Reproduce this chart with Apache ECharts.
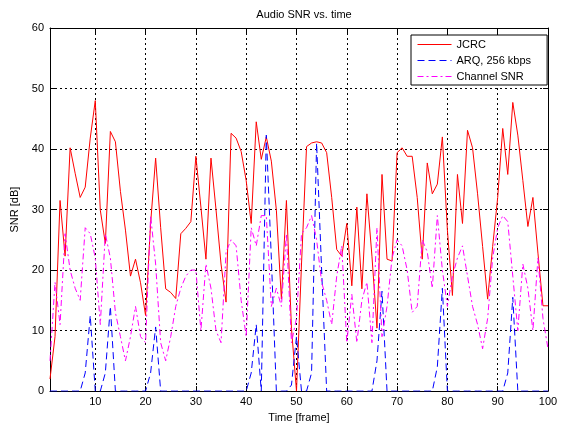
<!DOCTYPE html>
<html>
<head>
<meta charset="utf-8">
<script src="https://cdn.jsdelivr.net/npm/echarts@6/dist/echarts.min.js"></script>
<style>
html,body{margin:0;padding:0;background:#fff;}
#chart{width:569px;height:428px;}
</style>
</head>
<body>
<div id="chart"></div>
<script>
// ---- data ----
var frames = [1,2,3,4,5,6,7,8,9,10,11,12,13,14,15,16,17,18,19,20,21,22,23,24,25,26,27,28,29,30,31,32,33,34,35,36,37,38,39,40,41,42,43,44,45,46,47,48,49,50,51,52,53,54,55,56,57,58,59,60,61,62,63,64,65,66,67,68,69,70,71,72,73,74,75,76,77,78,79,80,81,82,83,84,85,86,87,88,89,90,91,92,93,94,95,96,97,98,99,100];
var jcrc = [
  2, 9, 31.5, 22.3, 40.2, 36, 32, 33.7, 41.8, 48,
  29.9, 24.4, 42.9, 41.2, 33, 26.6, 19, 21.8, 17.9, 12.5,
  27.7, 38.5, 27, 16.9, 16.3, 15.3, 26, 26.9, 28, 38.8,
  30.4, 21.8, 38.5, 30, 21, 14.7, 42.6, 41.8, 39.6, 34.8,
  27.7, 44.5, 38.3, 42, 38, 29.9, 15.2, 31.5, 10.4, 0,
  21, 40.4, 41, 41.2, 41, 39.4, 32, 23.4, 22.3, 27.7,
  17.4, 30.4, 16.9, 32.6, 22.3, 10.4, 35.8, 21.8, 21.5, 39.4,
  40.2, 38.8, 38.8, 32, 21.8, 37.7, 32.6, 34.2, 42, 26.6,
  15.8, 35.8, 27.7, 43.1, 40.2, 32.6, 23.9, 15.2, 23.9, 32,
  43.4, 35.8, 47.7, 42.3, 34.8, 27.2, 32, 22.8, 14.1, 14.1
];
var arq = [
  0, 0, 0, 0, 0, 0, 0, 3, 12.5, 0,
  0, 3, 14, 0, 0, 0, 0, 0, 0, 0,
  3, 10.6, 0, 0, 0, 0, 0, 0, 0, 0,
  0, 0, 0, 0, 0, 0, 0, 0, 0, 0,
  3, 11, 0, 42.3, 22, 0, 0, 0, 1, 9,
  0, 0, 3, 41, 20, 0, 0, 0, 0, 0,
  0, 0, 0, 0, 0, 5, 16.5, 0, 0, 0,
  0, 0, 0, 0, 0, 0, 0, 4, 17, 0,
  0, 0, 0, 0, 0, 0, 0, 0, 0, 0,
  0, 3, 15.5, 0, 0, 0, 0, 0, 0, 0
];
var channelSnr = [
  5, 18, 11, 26, 20, 17, 15, 27, 26, 22,
  11, 26, 22, 13, 9, 5, 9, 14, 9, 8,
  29, 21, 8, 5, 9, 14, 17, 19, 20, 20,
  10, 21, 17, 10, 8, 23, 25, 24, 15, 9,
  27, 24, 29, 29, 14, 17, 14, 26, 8, 12,
  26, 27, 29, 25, 18, 15, 11, 19, 24, 8,
  16, 8, 15, 18, 8, 27, 9, 14, 22, 25,
  24, 20, 13, 14, 25, 23, 17, 29, 20, 14,
  19, 22, 24, 19, 14, 11, 7, 12, 22, 27,
  29, 28, 19, 10, 21, 17, 10, 22, 12, 7
];
var xTicks = [10, 20, 30, 40, 50, 60, 70, 80, 90, 100];
var seriesNames = ['JCRC', 'ARQ, 256 kbps', 'Channel SNR'];

function pairs(vals) {
  return frames.map(function (f, i) { return [f, vals[i]]; });
}

var FONT = 'Liberation Sans, Arial, Helvetica, sans-serif';
var chart = echarts.init(document.getElementById('chart'), null, {renderer: 'canvas'});
var gridLine = {show: true, lineStyle: {color: '#000', width: 1, type: [2, 3]}};
var option = {
  animation: false,
  backgroundColor: '#fff',
  textStyle: {fontFamily: FONT},
  title: {
    text: 'Audio SNR vs. time',
    left: 299, top: 4, textAlign: 'center',
    textStyle: {fontSize: 11, fontWeight: 'normal', color: '#000', fontFamily: FONT}
  },
  grid: {left: 50, right: 21, top: 28, bottom: 31, containLabel: false},
  legend: {
    data: seriesNames,
    orient: 'vertical',
    left: 411, top: 35,
    backgroundColor: '#fff',
    borderColor: '#000', borderWidth: 1, borderRadius: 0,
    padding: [4, 16, 3, 6],
    itemWidth: 34, itemHeight: 12, itemGap: 5,
    itemStyle: {color: 'rgba(0,0,0,0)', borderWidth: 0, opacity: 0},
    lineStyle: {width: 1},
    textStyle: {fontSize: 11, color: '#000', fontFamily: FONT}
  },
  xAxis: [{
    type: 'value', min: 1, max: 100, position: 'bottom',
    name: 'Time [frame]', nameLocation: 'middle', nameGap: 14,
    nameTextStyle: {fontSize: 11, color: '#000', fontFamily: FONT},
    axisLine: {show: true, lineStyle: {color: '#000', width: 1}},
    axisTick: {show: true, inside: true, length: 5, customValues: xTicks, lineStyle: {color: '#000'}},
    axisLabel: {show: true, customValues: xTicks, fontSize: 11, color: '#000', margin: 5, fontFamily: FONT},
    splitLine: gridLine
  }, {
    type: 'value', min: 1, max: 100, position: 'top',
    axisLine: {show: true, onZero: false, lineStyle: {color: '#000', width: 1}},
    axisTick: {show: true, inside: true, length: 5, customValues: xTicks, lineStyle: {color: '#000'}},
    axisLabel: {show: false},
    splitLine: {show: false}
  }],
  yAxis: [{
    type: 'value', min: 0, max: 60, interval: 10, position: 'left',
    name: 'SNR [dB]', nameLocation: 'middle', nameGap: 22,
    nameTextStyle: {fontSize: 11, color: '#000', fontFamily: FONT},
    axisLine: {show: true, onZero: false, lineStyle: {color: '#000', width: 1}},
    axisTick: {show: true, inside: true, length: 5, lineStyle: {color: '#000'}},
    axisLabel: {show: true, fontSize: 11, color: '#000', margin: 6, fontFamily: FONT},
    splitLine: gridLine
  }, {
    type: 'value', min: 0, max: 60, interval: 10, position: 'right',
    axisLine: {show: true, onZero: false, lineStyle: {color: '#000', width: 1}},
    axisTick: {show: true, inside: true, length: 5, lineStyle: {color: '#000'}},
    axisLabel: {show: false},
    splitLine: {show: false}
  }],
  series: [{
    name: seriesNames[0], type: 'line', data: pairs(jcrc),
    symbol: 'none', showSymbol: false, clip: true,
    lineStyle: {color: '#ff0000', width: 1, type: 'solid'},
    itemStyle: {color: '#ff0000'}, z: 2
  }, {
    name: seriesNames[1], type: 'line', data: pairs(arq),
    symbol: 'none', showSymbol: false, clip: true,
    lineStyle: {color: '#0000ff', width: 1, type: [7, 4]},
    itemStyle: {color: '#0000ff'}, z: 3
  }, {
    name: seriesNames[2], type: 'line', data: pairs(channelSnr),
    symbol: 'none', showSymbol: false, clip: true,
    lineStyle: {color: '#ff00ff', width: 1, type: [6, 3, 2, 3]},
    itemStyle: {color: '#ff00ff'}, z: 4
  }]
};
chart.setOption(option);
</script>
</body>
</html>
